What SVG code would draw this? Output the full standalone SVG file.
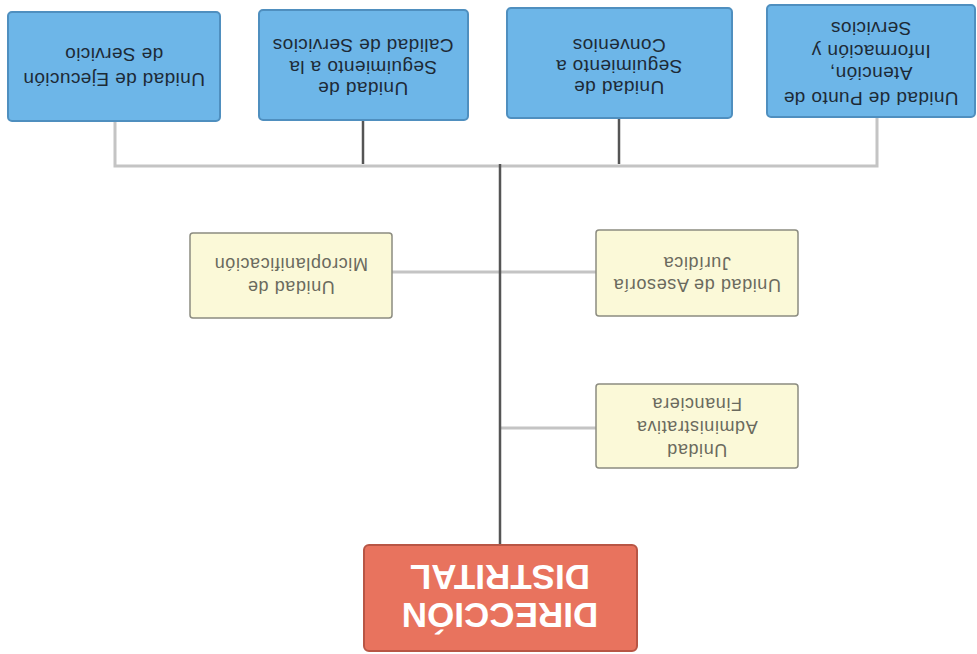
<svg xmlns="http://www.w3.org/2000/svg" width="977" height="654" viewBox="0 0 977 654">
<style>
.blue{fill:#6db6e8;stroke:#4f8fbf;stroke-width:2}
.yel{fill:#fbf9d8;stroke:#8c8c80;stroke-width:1.5}
.red{fill:#e8735e;stroke:#b85645;stroke-width:2}
.bt{font-family:"Liberation Sans",Arial,sans-serif;font-size:19px;letter-spacing:0.4px;fill:#1d2a36;text-anchor:middle}
.yt{font-family:"Liberation Sans",Arial,sans-serif;font-size:18px;letter-spacing:0.6px;fill:#6a6a5e;text-anchor:middle}
.rt{font-family:"Liberation Sans",Arial,sans-serif;font-size:35px;font-weight:bold;fill:#ffffff;text-anchor:middle}
.light{stroke:#c4c4c4;stroke-width:3;fill:none}
.dark{stroke:#555555;stroke-width:2.5;fill:none}
</style>
<rect width="977" height="654" fill="#ffffff"/>
<g id="connectors">
<path class="light" d="M115 122 V166 H877 V117"/>
<path class="dark" d="M363 120 V164"/>
<path class="dark" d="M619 118 V164"/>
<path class="light" d="M392 272 H596"/>
<path class="light" d="M500 428 H596"/>
<path class="dark" d="M500 164 V545"/>
</g>
<g id="n1">
<rect class="blue" x="8" y="12" width="212" height="109" rx="4"/>
<g transform="rotate(180 114 67)"><text class="bt" x="114" y="61">Unidad de Ejecución</text><text class="bt" x="114" y="86">de Servicio</text></g>
</g>
<g id="n2">
<rect class="blue" x="259" y="10" width="209" height="110" rx="4"/>
<g transform="rotate(180 363 67)"><text class="bt" x="363" y="52">Unidad de</text><text class="bt" x="363" y="73">Seguimiento a la</text><text class="bt" x="363" y="95">Calidad de Servicios</text></g>
</g>
<g id="n3">
<rect class="blue" x="507" y="8" width="225" height="110" rx="4"/>
<g transform="rotate(180 619 66)"><text class="bt" x="619" y="51">Unidad de</text><text class="bt" x="619" y="72">Seguimiento a</text><text class="bt" x="619" y="93">Convenios</text></g>
</g>
<g id="n4">
<rect class="blue" x="767" y="5" width="208" height="112" rx="4"/>
<g transform="rotate(180 871 63)"><text class="bt" x="871" y="34">Unidad de Punto de</text><text class="bt" x="871" y="59">Atención,</text><text class="bt" x="871" y="81">Información y</text><text class="bt" x="871" y="104">Servicios</text></g>
</g>
<g id="n5">
<rect class="yel" x="190" y="233" width="202" height="85" rx="3"/>
<g transform="rotate(180 291 276)"><text class="yt" x="291" y="271">Unidad de</text><text class="yt" x="291" y="294">Microplanificación</text></g>
</g>
<g id="n6">
<rect class="yel" x="596" y="230" width="202" height="86" rx="3"/>
<g transform="rotate(180 697 274)"><text class="yt" x="697" y="269">Unidad de Asesoría</text><text class="yt" x="697" y="291">Jurídica</text></g>
</g>
<g id="n7">
<rect class="yel" x="596" y="384" width="202" height="84" rx="3"/>
<g transform="rotate(180 697 427)"><text class="yt" x="697" y="410">Unidad</text><text class="yt" x="697" y="433">Administrativa</text><text class="yt" x="697" y="456">Financiera</text></g>
</g>
<g id="n8">
<rect class="red" x="364" y="545" width="273" height="106" rx="5"/>
<g transform="rotate(180 500 598)"><text class="rt" x="500" y="593">DIRECCIÓN</text><text class="rt" x="500" y="631">DISTRITAL</text></g>
</g>
</svg>
